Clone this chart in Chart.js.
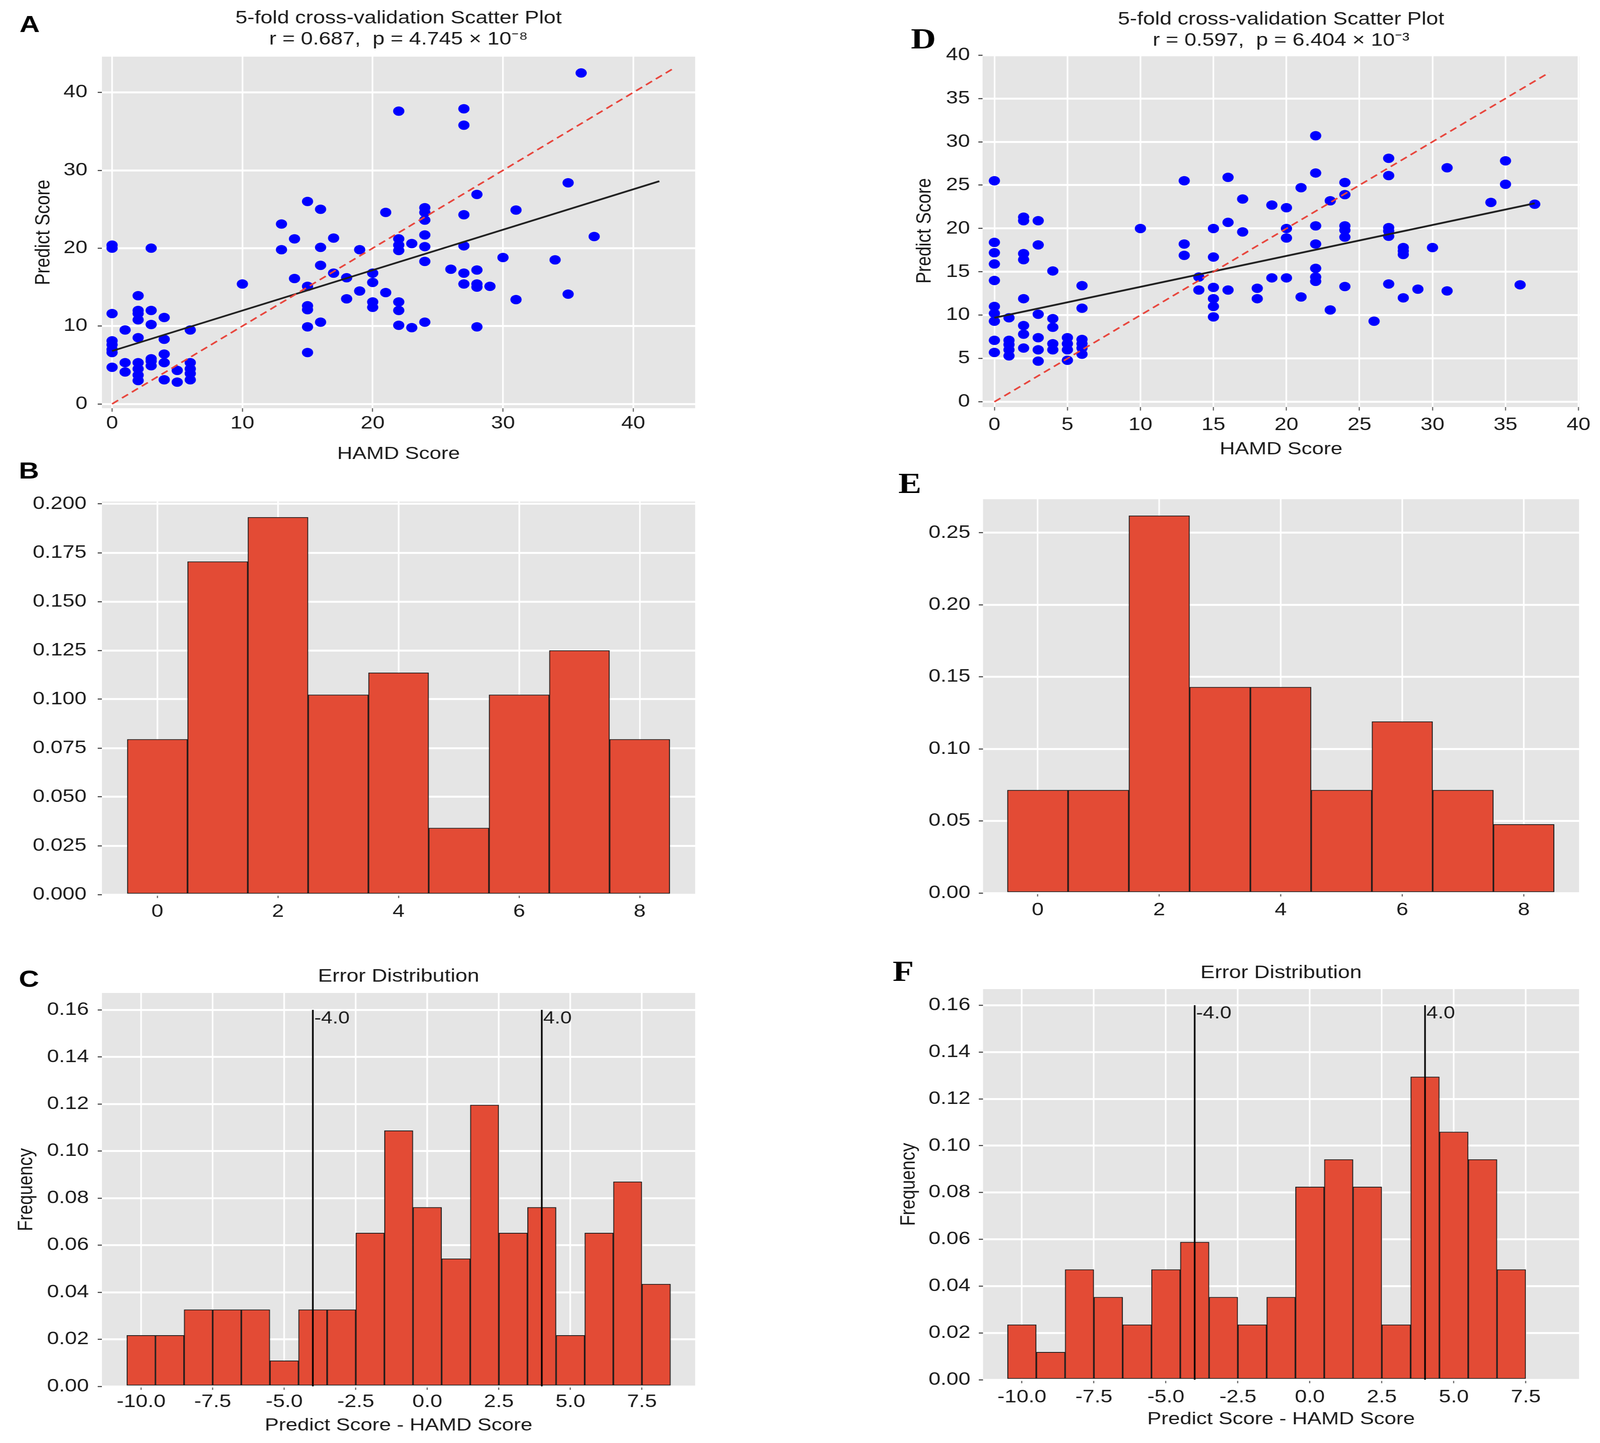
<!DOCTYPE html>
<html>
<head>
<meta charset="utf-8">
<script src="https://cdn.jsdelivr.net/npm/chart.js@4.4.1/dist/chart.umd.min.js"></script>
<style>
  html, body { margin:0; padding:0; background:#ffffff; overflow:hidden; }
  canvas { position:absolute; transform-origin:0 0; }
</style>
</head>
<body>
<canvas id="cA"></canvas>
<canvas id="cB"></canvas>
<canvas id="cC"></canvas>
<canvas id="cD"></canvas>
<canvas id="cE"></canvas>
<canvas id="cF"></canvas>
<script>
// ---------------- DATA ----------------
// Panel A : 5-fold cross-validation scatter (HAMD score vs predicted score)
const hamdA = [0,0,0,0,0,0,0,0, 1,1,1, 2,2,2,2,2,2,2,2,2, 3,3,3,3,3,3, 4,4,4,4,4, 5,5, 6,6,6,6,6,
  10, 13,13, 14,14, 15,15,15,15,15,15, 16,16,16,16, 17,17, 18,18, 19,19, 20,20,20,20, 21,21,
  22,22,22,22,22,22,22, 23,23, 24,24,24,24,24,24,24, 26, 27,27,27,27,27,27, 28,28,28,28,28,
  29, 30, 31,31, 34, 35,35, 36, 37];
const predA = [20.0,20.4,11.6,8.1,7.6,7.0,6.6,4.7, 9.5,5.3,4.1, 13.9,12.0,11.6,10.8,8.5,5.3,4.5,3.7,3.0,
  20.0,12.0,10.2,5.8,5.5,4.9, 11.1,8.3,6.4,5.3,3.1, 4.3,2.8, 9.5,5.3,4.5,3.9,3.1,
  15.4, 23.1,19.8, 21.2,16.1, 26.0,15.1,12.6,12.1,9.9,6.6, 25.0,20.1,17.8,10.5, 21.3,16.8, 16.2,13.5,
  19.8,14.5, 16.8,15.6,13.1,12.4, 24.6,14.3, 37.6,21.2,20.4,19.7,13.1,12.0,10.1, 20.6,9.8,
  25.2,24.6,23.6,21.7,20.2,18.3,10.5, 17.3, 37.9,35.8,24.3,20.3,16.8,15.4, 26.9,17.2,15.4,15.0,9.9,
  15.1, 18.8, 24.9,13.4, 18.5, 28.4,14.1, 42.5, 21.5];
const fitXA = [0, 42];       const fitYA = [6.8, 28.6];
const identXA = [0, 43];     const identYA = [0, 43];
const titleA = ['5-fold cross-validation Scatter Plot', 'r = 0.687,  p = 4.745 \u00d7 10\u207b\u2078'];

// Panel D : 5-fold cross-validation scatter
const hamdD = [0,0,0,0,0,0,0,0,0,0, 1,1,1,1,1, 2,2,2,2,2,2,2,2, 3,3,3,3,3,3, 4,4,4,4,4, 5,5,5,5, 6,6,6,6,6,6,
  10, 13,13,13, 14,14, 15,15,15,15,15,15, 16,16,16, 17,17, 18,18, 19,19, 20,20,20,20, 21,21,
  22,22,22,22,22,22,22, 23,23, 24,24,24,24,24,24, 26, 27,27,27,27,27,27, 28,28,28,28, 29, 30,
  31,31, 34, 35,35, 36, 37];
const predD = [25.5,18.4,17.2,15.9,14.0,11.0,10.2,9.3,7.1,5.7, 9.7,7.1,6.6,6.0,5.3,
  21.3,20.9,17.1,16.4,11.9,8.8,7.8,6.2, 20.9,18.1,10.1,7.4,6.0,4.7, 15.1,9.6,8.6,6.7,6.0,
  7.4,6.7,6.0,4.8, 13.4,10.8,7.2,6.7,6.2,5.5,
  20.0, 25.5,18.2,16.9, 14.4,12.9, 20.0,16.7,13.2,11.9,11.0,9.8, 25.9,20.7,12.9, 23.4,19.6, 13.1,11.9,
  22.7,14.3, 22.4,20.0,18.9,14.3, 24.7,12.1, 30.7,26.4,20.3,18.2,15.4,14.4,13.9, 23.2,10.6,
  25.3,23.9,20.3,19.8,19.0,13.3, 9.3, 28.1,26.1,20.1,19.7,19.1,13.6, 17.8,17.4,17.0,12.0, 13.0, 17.8,
  27.0,12.8, 23.0, 27.8,25.1, 13.5, 22.8];
const fitXD = [0, 37];       const fitYD = [9.7, 22.9];
const identXD = [0, 38];     const identYD = [0, 38];
const titleD = ['5-fold cross-validation Scatter Plot', 'r = 0.597,  p = 6.404 \u00d7 10\u207b\u00b3'];

// Panel B and E : histograms (bins 0..8)
const binsB = [0, 1, 2, 3, 4, 5, 6, 7, 8];
const freqB = [0.0795, 0.1705, 0.1932, 0.1023, 0.1136, 0.0341, 0.1023, 0.1250, 0.0795];
const binsE = [0, 1, 2, 3, 4, 5, 6, 7, 8];
const freqE = [0.0714, 0.0714, 0.2619, 0.1429, 0.1429, 0.0714, 0.1190, 0.0714, 0.0476];

// Panel C and F : error distributions (Predict Score - HAMD Score)
const errBinsC = [-10,-9,-8,-7,-6,-5,-4,-3,-2,-1,0,1,2,3,4,5,6,7,8];
const errFreqC = [0.0217,0.0217,0.0326,0.0326,0.0326,0.0109,0.0326,0.0326,0.0652,0.1087,
                  0.0761,0.0543,0.1196,0.0652,0.0761,0.0217,0.0652,0.0870,0.0435];
const errBinsF = [-10,-9,-8,-7,-6,-5,-4,-3,-2,-1,0,1,2,3,4,5,6,7];
const errFreqF = [0.0235,0.0118,0.0471,0.0353,0.0235,0.0471,0.0588,0.0353,0.0235,0.0353,
                  0.0824,0.0941,0.0824,0.0235,0.1294,0.1059,0.0941,0.0471];
const cutValues = [-4, 4];
const cutLabels = ['-4.0', '4.0'];
const cutTop = 0.16;

// Tick values
const xTicksA = [0, 10, 20, 30, 40];
const yTicksA = [0, 10, 20, 30, 40];
const xTicksD = [0, 5, 10, 15, 20, 25, 30, 35, 40];
const yTicksD = [0, 5, 10, 15, 20, 25, 30, 35, 40];
const xTicksHist = [0, 2, 4, 6, 8];
const yTicksB = [0, 0.025, 0.05, 0.075, 0.1, 0.125, 0.15, 0.175, 0.2];
const yTicksE = [0, 0.05, 0.1, 0.15, 0.2, 0.25];
const xTicksErr = [-10, -7.5, -5, -2.5, 0, 2.5, 5, 7.5];
const yTicksErr = [0, 0.02, 0.04, 0.06, 0.08, 0.1, 0.12, 0.14, 0.16];

// ---------------- STYLE / LAYOUT ----------------
const FULL_W = 4860, FULL_H = 3694;                 // reference figure size
const KX = (window.innerWidth || FULL_W) / FULL_W;  // fit the figure to the actual viewport
const KY = (window.innerHeight || FULL_H) / FULL_H;
const SX = 1.42;   // horizontal stretch of the original figure
const FONT = "'Liberation Sans', Arial, Helvetica, sans-serif";
const SERIF = "'Liberation Serif', 'Times New Roman', serif";
const INK = '#1a1a1a';
const PANEL_BG = '#E5E5E5';
const BAR_FILL = '#E34B35';
const POINT_BLUE = '#0000FF';

Chart.defaults.font.family = FONT;
Chart.defaults.color = INK;

Chart.register({
  id: 'panelBg',
  beforeDraw(chart) {
    const { ctx, chartArea: a } = chart;
    ctx.save();
    ctx.fillStyle = PANEL_BG;
    ctx.fillRect(a.left, a.top, a.right - a.left, a.bottom - a.top);
    ctx.restore();
  }
});

function place(id, left, top, w, h) {
  const c = document.getElementById(id);
  c.width = w; c.height = h;
  c.style.left = (left * KX) + 'px'; c.style.top = (top * KY) + 'px';
  c.style.width = w + 'px'; c.style.height = h + 'px';
  c.style.transform = 'scale(' + (SX * KX) + ',' + KY + ')';
  return c;
}

function mkAxis(o) {
  const vertical = o.pos === 'left';
  return {
    type: 'linear', position: o.pos, min: o.min, max: o.max, offset: false,
    afterBuildTicks: s => { s.ticks = o.ticks.map(v => ({ value: v })); },
    afterFit: s => { if (vertical) s.width = o.size; else s.height = o.size; },
    ticks: { autoSkip: false, maxRotation: 0, minRotation: 0, padding: o.pad, color: INK,
             font: { family: FONT, size: 46 }, callback: v => o.fmt(v) },
    grid: { color: '#FFFFFF', lineWidth: vertical ? 5 : 3.5, drawTicks: true, tickLength: 9,
            tickColor: '#555555', tickWidth: vertical ? 3 : 2.2, offset: false },
    border: { display: false },
    title: o.title ? { display: true, text: o.title, color: INK, font: { family: FONT, size: 45 },
                       padding: vertical ? { top: o.tpad, bottom: 0 } : { top: 0, bottom: o.tpad } }
                   : { display: false }
  };
}

function letterPlugin(ch, x, y, serif) {
  return {
    id: 'letter' + ch,
    afterDraw(chart) {
      const ctx = chart.ctx;
      ctx.save();
      ctx.font = serif ? ('bold 74px ' + SERIF) : ('bold 60px ' + FONT);
      ctx.fillStyle = '#000';
      ctx.textAlign = 'center';
      ctx.textBaseline = 'alphabetic';
      ctx.fillText(ch, x, y);
      ctx.restore();
    }
  };
}

function cutLabelPlugin() {
  return {
    id: 'cutLabels',
    afterDatasetsDraw(chart) {
      const { ctx, scales: { x, y } } = chart;
      ctx.save();
      ctx.font = '44px ' + FONT;
      ctx.fillStyle = INK;
      ctx.textAlign = 'left';
      ctx.textBaseline = 'top';
      cutValues.forEach((v, i) => ctx.fillText(cutLabels[i], x.getPixelForValue(v) + 3, y.getPixelForValue(cutTop)));
      ctx.restore();
    }
  };
}

const pts = (xs, ys) => xs.map((v, i) => ({ x: v, y: ys[i] }));
const baseOpts = { responsive: false, animation: false, devicePixelRatio: 1, events: [] };

function scatterChart(id, p) {
  const c = place(id, p.left, p.top, p.w, p.h);
  return new Chart(c, {
    type: 'scatter',
    data: { datasets: [
      { data: pts(p.identX, p.identY), showLine: true, borderColor: '#E8453C', borderWidth: 4,
        borderDash: [16, 10], pointRadius: 0 },
      { data: pts(p.fitX, p.fitY), showLine: true, borderColor: '#222222', borderWidth: 4.5, pointRadius: 0 },
      { data: pts(p.xs, p.ys), showLine: false, pointRadius: 12, pointBackgroundColor: POINT_BLUE,
        pointBorderWidth: 0, backgroundColor: POINT_BLUE }
    ] },
    options: Object.assign({}, baseOpts, {
      layout: { padding: { left: 0, right: p.pr, top: 0, bottom: 0 } },
      plugins: {
        legend: { display: false }, tooltip: { enabled: false },
        title: { display: true, text: p.title, fullSize: false, color: INK,
                 font: { family: FONT, size: 46, lineHeight: 54 / 46, weight: 'normal' },
                 padding: { top: p.ttop, bottom: p.tbot } }
      },
      scales: { x: mkAxis(p.x), y: mkAxis(p.y) }
    }),
    plugins: [letterPlugin(p.letter, p.lx, p.ly, p.serif)]
  });
}

function histChart(id, p) {
  const c = place(id, p.left, p.top, p.w, p.h);
  const datasets = [];
  if (p.cuts) {
    cutValues.forEach(v => datasets.push({ type: 'line', data: [{ x: v, y: 0 }, { x: v, y: cutTop }],
      borderColor: '#000000', borderWidth: 3.5, pointRadius: 0, fill: false }));
  }
  datasets.push({ type: 'bar', data: pts(p.bins, p.freq), backgroundColor: BAR_FILL,
    borderColor: '#1a1a1a', borderWidth: 2, borderSkipped: false, barPercentage: 1, categoryPercentage: 1 });
  const plugins = [letterPlugin(p.letter, p.lx, p.ly, p.serif)];
  if (p.cuts) plugins.push(cutLabelPlugin());
  return new Chart(c, {
    type: 'bar',
    data: { datasets },
    options: Object.assign({}, baseOpts, {
      layout: { padding: { left: 0, right: p.pr, top: p.ptop, bottom: 0 } },
      plugins: {
        legend: { display: false }, tooltip: { enabled: false },
        title: p.title ? { display: true, text: p.title, fullSize: false, color: INK,
                 font: { family: FONT, size: 46, lineHeight: 1.2, weight: 'normal' },
                 padding: { top: p.ttop, bottom: p.tbot } } : { display: false }
      },
      scales: { x: mkAxis(p.x), y: mkAxis(p.y) }
    }),
    plugins
  });
}

const f0 = v => String(Math.round(v));
const f1 = v => v.toFixed(1);
const f2 = v => v.toFixed(2);
const f3 = v => v.toFixed(3);

// Panel A
scatterChart('cA', {
  left: 0, top: 0, w: 1549, h: 1200, pr: 62, ttop: 20, tbot: 17, title: titleA,
  xs: hamdA, ys: predA, fitX: fitXA, fitY: fitYA, identX: identXA, identY: identYA,
  x: { pos: 'bottom', min: -0.78, max: 44.75, ticks: xTicksA, fmt: f0, size: 155, pad: 3, title: 'HAMD Score', tpad: 10 },
  y: { pos: 'left', min: -0.55, max: 44.6, ticks: yTicksA, fmt: f0, size: 218, pad: 22, title: 'Predict Score', tpad: 66.7 },
  letter: 'A', lx: 63.4, ly: 82, serif: false
});

// Panel D
scatterChart('cD', {
  left: 2600, top: 0, w: 1592, h: 1200, pr: 44, ttop: 23, tbot: 9, title: titleD,
  xs: hamdD, ys: predD, fitX: fitXD, fitY: fitYD, identX: identXD, identY: identYD,
  x: { pos: 'bottom', min: -0.81, max: 40.07, ticks: xTicksD, fmt: f0, size: 158, pad: 10, title: 'HAMD Score', tpad: 22 },
  y: { pos: 'left', min: -0.6, max: 40.05, ticks: yTicksD, fmt: f0, size: 271, pad: 18, title: 'Predict Score', tpad: 120.2 },
  letter: 'D', lx: 144.4, ly: 124, serif: true
});

// Panel B
histChart('cB', {
  left: 0, top: 1180, w: 1549, h: 1240, pr: 62, ptop: 104,
  bins: binsB, freq: freqB,
  x: { pos: 'bottom', min: -0.92, max: 8.92, ticks: xTicksHist, fmt: f0, size: 130, pad: 8 },
  y: { pos: 'left', min: 0, max: 0.2012, ticks: yTicksB, fmt: f3, size: 218, pad: 24 },
  letter: 'B', lx: 62, ly: 45, serif: false
});

// Panel E
histChart('cE', {
  left: 2600, top: 1180, w: 1592, h: 1240, pr: 45, ptop: 98,
  bins: binsE, freq: freqE,
  x: { pos: 'bottom', min: -0.9, max: 8.91, ticks: xTicksHist, fmt: f0, size: 134, pad: 8 },
  y: { pos: 'left', min: 0, max: 0.2733, ticks: yTicksE, fmt: f2, size: 272, pad: 18 },
  letter: 'E', lx: 115.5, ly: 82, serif: true
});

// Panel C
histChart('cC', {
  left: 0, top: 2420, w: 1549, h: 1274, pr: 62, ptop: 0, title: 'Error Distribution', ttop: 52.4, tbot: 14.4,
  bins: errBinsC, freq: errFreqC, cuts: true,
  x: { pos: 'bottom', min: -11.37, max: 9.36, ticks: xTicksErr, fmt: f1, size: 145, pad: 4, title: 'Predict Score - HAMD Score', tpad: 17 },
  y: { pos: 'left', min: 0, max: 0.1672, ticks: yTicksErr, fmt: f2, size: 218, pad: 19, title: 'Frequency', tpad: 29.3 },
  letter: 'C', lx: 62, ly: 106, serif: false
});

// Panel F
histChart('cF', {
  left: 2600, top: 2420, w: 1592, h: 1274, pr: 45, ptop: 0, title: 'Error Distribution', ttop: 43.4, tbot: 13.4,
  bins: errBinsF, freq: errFreqF, cuts: true,
  x: { pos: 'bottom', min: -11.35, max: 9.35, ticks: xTicksErr, fmt: f1, size: 162, pad: 9, title: 'Predict Score - HAMD Score', tpad: 33 },
  y: { pos: 'left', min: 0, max: 0.1669, ticks: yTicksErr, fmt: f2, size: 272, pad: 18, title: 'Frequency', tpad: 86.5 },
  letter: 'F', lx: 101.4, ly: 91, serif: true
});
</script>
</body>
</html>
